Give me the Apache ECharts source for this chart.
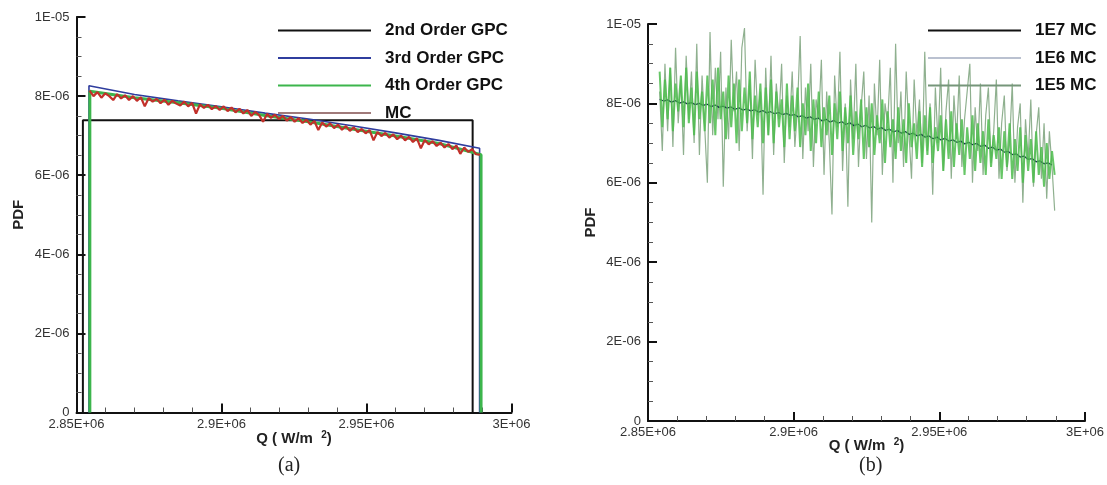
<!DOCTYPE html>
<html><head><meta charset="utf-8">
<script src="https://cdn.jsdelivr.net/npm/echarts@6/dist/echarts.min.js"></script>
<style>html,body{margin:0;padding:0;background:#fff}#c{width:1107px;height:485px}</style>
</head><body><div id="c"></div>
<script>
// Tick labels
var xTickLabels = ['2.85E+06', '2.9E+06', '2.95E+06', '3E+06'];
var yTickLabels = ['0', '2E-06', '4E-06', '6E-06', '8E-06', '1E-05'];
// PDF values are in units of 1E-06; Q in W/m^2
// Panel (a)
var gpc2 = [[2852200, 0], [2852200, 7.39], [2986600, 7.39], [2986600, 0]];
var gpc3 = [[2854300, 0], [2854300, 8.26], [2870000, 8.04], [2885000, 7.88], [2900000, 7.73], [2915000, 7.57], [2930000, 7.42], [2945000, 7.25], [2960000, 7.07], [2975000, 6.88], [2989000, 6.68], [2989000, 0]];
var gpc4 = [[2854600, 0], [2854600, 8.12], [2870000, 7.96], [2885000, 7.83], [2900000, 7.69], [2915000, 7.51], [2930000, 7.35], [2945000, 7.17], [2960000, 6.99], [2975000, 6.80], [2989500, 6.52], [2989500, 0]];
var mcStart = 2854500, mcStep = 1360;
var mc = [8.14, 8.00, 8.10, 7.96, 8.07, 8.00, 7.90, 8.05, 7.94, 8.02,
  7.90, 8.00, 7.88, 7.97, 7.74, 7.95, 7.86, 7.93, 7.82, 7.91,
  7.78, 7.88, 7.81, 7.76, 7.86, 7.74, 7.83, 7.56, 7.79, 7.70,
  7.78, 7.67, 7.75, 7.65, 7.74, 7.62, 7.71, 7.59, 7.68, 7.56,
  7.65, 7.50, 7.60, 7.52, 7.35, 7.55, 7.45, 7.53, 7.42, 7.50,
  7.38, 7.47, 7.35, 7.44, 7.32, 7.40, 7.28, 7.37, 7.14, 7.33,
  7.23, 7.31, 7.19, 7.28, 7.15, 7.24, 7.12, 7.21, 7.09, 7.17,
  7.06, 7.14, 6.88, 7.09, 6.99, 7.07, 6.95, 7.03, 6.91, 7.00,
  6.88, 6.97, 6.84, 6.93, 6.68, 6.89, 6.78, 6.86, 6.74, 6.82,
  6.70, 6.79, 6.66, 6.75, 6.54, 6.70, 6.59, 6.66, 6.53, 6.52];
// Panel (b)
var mc7Start = 2854000, mc7Step = 1360;
var mc1e7 = [8.10, 8.06, 8.09, 8.03, 8.07, 8.01, 8.04, 7.99, 8.02, 7.97,
  8.00, 7.95, 7.98, 7.92, 7.96, 7.90, 7.93, 7.88, 7.91, 7.85,
  7.89, 7.83, 7.86, 7.81, 7.84, 7.78, 7.82, 7.76, 7.79, 7.74,
  7.77, 7.72, 7.75, 7.70, 7.72, 7.66, 7.69, 7.63, 7.66, 7.60,
  7.63, 7.56, 7.60, 7.53, 7.57, 7.50, 7.54, 7.47, 7.51, 7.44,
  7.48, 7.41, 7.45, 7.38, 7.42, 7.35, 7.39, 7.32, 7.35, 7.28,
  7.32, 7.25, 7.29, 7.22, 7.25, 7.18, 7.22, 7.15, 7.18, 7.11,
  7.15, 7.08, 7.12, 7.05, 7.08, 7.02, 7.05, 6.98, 7.02, 6.96,
  6.99, 6.92, 6.95, 6.87, 6.90, 6.82, 6.85, 6.77, 6.79, 6.71,
  6.73, 6.65, 6.67, 6.59, 6.61, 6.53, 6.55, 6.48, 6.50, 6.45];
var mc6Start = 2854000, mc6Step = 910;
var mc1e6 = [8.8, 7.4, 8.6, 7.6, 8.9, 7.3, 8.5, 7.8, 8.7, 7.4,
  8.9, 7.5, 8.4, 7.2, 8.8, 7.6, 8.3, 7.3, 8.7, 7.5,
  8.6, 7.2, 8.9, 7.6, 8.3, 7.1, 8.7, 7.4, 8.5, 7.0,
  8.6, 7.3, 8.4, 7.5, 8.8, 7.1, 8.2, 7.4, 8.5, 7.0,
  8.4, 7.2, 8.6, 7.0, 8.3, 7.4, 8.1, 6.9, 8.5, 7.1,
  8.2, 7.3, 8.4, 6.9, 8.0, 7.2, 8.5, 6.8, 8.1, 7.0,
  8.3, 6.9, 7.9, 7.2, 8.2, 6.7, 8.0, 7.1, 8.3, 6.8,
  7.9, 7.0, 8.2, 6.7, 7.8, 7.1, 8.1, 6.6, 7.9, 6.9,
  8.0, 6.7, 7.7, 7.0, 8.1, 6.5, 7.8, 6.9, 7.6, 6.6,
  7.9, 6.8, 7.6, 6.5, 8.0, 6.9, 7.5, 6.6, 7.8, 6.4,
  7.7, 6.7, 7.9, 6.5, 7.4, 6.8, 7.7, 6.3, 7.6, 6.6,
  7.8, 6.4, 7.5, 6.7, 7.6, 6.2, 7.4, 6.6, 7.7, 6.3,
  7.5, 6.5, 7.3, 6.2, 7.6, 6.4, 7.2, 6.6, 7.4, 6.1,
  7.3, 6.4, 7.5, 6.1, 7.1, 6.3, 7.4, 6.0, 7.2, 6.3,
  7.1, 6.0, 7.3, 6.2, 6.9, 5.9, 7.0, 6.1, 6.8, 6.2];
var mc5Start = 2854000, mc5Step = 910;
var mc1e5 = [8.3, 6.8, 9.0, 7.3, 8.9, 6.9, 9.4, 7.5, 8.6, 6.7,
  9.2, 7.6, 8.8, 7.0, 9.5, 6.7, 8.7, 7.4, 6.0, 9.8,
  7.2, 8.9, 7.6, 9.3, 5.9, 8.4, 7.1, 9.6, 7.8, 8.8,
  6.8, 9.4, 9.9, 7.3, 8.6, 6.6, 9.1, 7.7, 8.3, 5.7,
  8.9, 7.2, 9.2, 6.7, 8.5, 7.6, 9.0, 6.5, 8.2, 7.4,
  8.8, 6.9, 7.9, 9.7, 6.6, 8.4, 7.3, 9.0, 6.4, 8.1,
  7.6, 9.1, 6.2, 8.3, 7.0, 5.2, 8.7, 7.4, 9.3, 6.3,
  8.0, 5.4, 8.6, 7.1, 9.0, 6.4, 7.9, 8.8, 6.6, 8.2,
  5.0, 8.5, 7.2, 9.1, 6.2, 8.0, 7.5, 8.9, 6.0, 9.5,
  7.0, 8.3, 6.4, 8.8, 7.3, 6.1, 8.6, 7.2, 8.1, 6.5,
  9.3, 6.8, 8.0, 5.7, 8.4, 7.0, 8.9, 6.3, 7.8, 8.6,
  6.1, 8.2, 7.1, 8.7, 6.4, 7.6, 8.3, 9.0, 6.0, 7.9,
  6.8, 8.5, 6.2, 7.7, 8.4, 6.5, 7.3, 8.6, 6.1, 7.5,
  8.2, 6.3, 7.0, 8.5, 6.0, 7.4, 8.0, 5.5, 7.6, 6.6,
  8.1, 5.9, 7.2, 7.9, 6.1, 7.5, 5.6, 7.3, 6.4, 5.3];

function pairs(start, step, vals) { return vals.map(function (v, i) { return [start + i * step, v]; }); }

var FONT = '"Liberation Sans", Arial, sans-serif';
function xAxisCfg(gi, gap) {
  return {
    type: 'value', gridIndex: gi, min: 2850000, max: 3000000, interval: 50000,
    name: 'Q ( W/m  {s|2})', nameLocation: 'middle', nameGap: gap, nameMoveOverlap: false,
    nameTextStyle: { fontFamily: FONT, fontWeight: 'bold', fontSize: 15, lineHeight: 17, color: '#222',
      rich: { s: { fontFamily: FONT, fontWeight: 'bold', fontSize: 10, lineHeight: 17, color: '#222', verticalAlign: 'top' } } },
    axisLine: { lineStyle: { color: '#111', width: 2 } },
    axisTick: { inside: true, length: 9, lineStyle: { color: '#111', width: 2 } },
    minorTick: { show: true, splitNumber: 5, length: 5, lineStyle: { color: '#555', width: 1 } },
    splitLine: { show: false },
    axisLabel: { margin: 5, fontFamily: FONT, fontSize: 13, color: '#333',
      formatter: function (v) { return xTickLabels[Math.round((v - 2850000) / 50000)]; } }
  };
}
function yAxisCfg(gi) {
  return {
    type: 'value', gridIndex: gi, min: 0, max: 10, interval: 2,
    name: 'PDF', nameLocation: 'middle', nameRotate: 90, nameGap: 50, nameMoveOverlap: false,
    nameTextStyle: { fontFamily: FONT, fontWeight: 'bold', fontSize: 15, color: '#222' },
    axisLine: { show: true, lineStyle: { color: '#111', width: 2 } },
    axisTick: { show: true, inside: true, length: 9, lineStyle: { color: '#111', width: 2 } },
    minorTick: { show: true, splitNumber: 4, length: 5, lineStyle: { color: '#555', width: 1 } },
    splitLine: { show: false },
    axisLabel: { margin: 7, fontFamily: FONT, fontSize: 13, color: '#333',
      formatter: function (v) { return yTickLabels[Math.round(v / 2)]; } }
  };
}
var legendText = { fontFamily: FONT, fontWeight: 'bold', fontSize: 17, color: '#111', padding: [0, 0, 0, 9] };
var noSym = { opacity: 0 };

var chart = echarts.init(document.getElementById('c'), null, { renderer: 'canvas' });
chart.setOption({
  animation: false,
  backgroundColor: '#fff',
  grid: [
    { left: 76.5, top: 17, width: 435, height: 395.5 },
    { left: 648, top: 24, width: 437, height: 397 }
  ],
  xAxis: [xAxisCfg(0, 18), xAxisCfg(1, 16)],
  yAxis: [yAxisCfg(0), yAxisCfg(1)],
  legend: [
    { orient: 'vertical', left: 272, top: 17, itemWidth: 93, itemHeight: 14, itemGap: 10.5,
      textStyle: legendText, selectedMode: false, itemStyle: noSym,
      data: [{ name: '2nd Order GPC' }, { name: '3rd Order GPC' }, { name: '4th Order GPC' },
        { name: 'MC', lineStyle: { color: '#a07a7a', width: 2 } }] },
    { orient: 'vertical', left: 922, top: 17, itemWidth: 93, itemHeight: 14, itemGap: 10.5,
      textStyle: legendText, selectedMode: false, itemStyle: noSym,
      data: [{ name: '1E7 MC', lineStyle: { color: '#111', width: 2 } },
        { name: '1E6 MC', lineStyle: { color: '#aeb6c8', width: 2 } },
        { name: '1E5 MC', lineStyle: { color: '#76967a', width: 2 } }] }
  ],
  series: [
    { name: '2nd Order GPC', type: 'line', xAxisIndex: 0, yAxisIndex: 0, data: gpc2, symbol: 'none',
      color: '#111', lineStyle: { color: '#111', width: 2 } },
    { name: '3rd Order GPC', type: 'line', xAxisIndex: 0, yAxisIndex: 0, data: gpc3, symbol: 'none',
      color: '#2f3d9e', lineStyle: { color: '#2f3d9e', width: 1.6 } },
    { name: '4th Order GPC', type: 'line', xAxisIndex: 0, yAxisIndex: 0, data: gpc4, symbol: 'none',
      color: '#3cb54c', lineStyle: { color: '#3cb54c', width: 3 } },
    { name: 'MC', type: 'line', xAxisIndex: 0, yAxisIndex: 0, data: pairs(mcStart, mcStep, mc), symbol: 'none',
      color: '#c2302a', lineStyle: { color: '#c2302a', width: 2.2 } },
    { name: '1E7 MC', type: 'line', xAxisIndex: 1, yAxisIndex: 1, data: pairs(mc7Start, mc7Step, mc1e7), symbol: 'none', z: 3,
      color: '#16304a', lineStyle: { color: '#16304a', width: 1.3 } },
    { name: '1E6 MC', type: 'line', xAxisIndex: 1, yAxisIndex: 1, data: pairs(mc6Start, mc6Step, mc1e6), symbol: 'none', z: 4,
      color: '#4cbc4c', lineStyle: { color: '#4cbc4c', width: 2, opacity: 0.85 } },
    { name: '1E5 MC', type: 'line', xAxisIndex: 1, yAxisIndex: 1, data: pairs(mc5Start, mc5Step, mc1e5), symbol: 'none', z: 2,
      color: '#8fb08f', lineStyle: { color: '#8fb08f', width: 1.2 } }
  ],
  graphic: [
    { type: 'text', left: 278, top: 456, style: { text: '(a)', font: '20px "Liberation Serif", "Times New Roman", serif', fill: '#222' } },
    { type: 'text', left: 859, top: 456, style: { text: '(b)', font: '20px "Liberation Serif", "Times New Roman", serif', fill: '#222' } }
  ]
});
</script></body></html>
